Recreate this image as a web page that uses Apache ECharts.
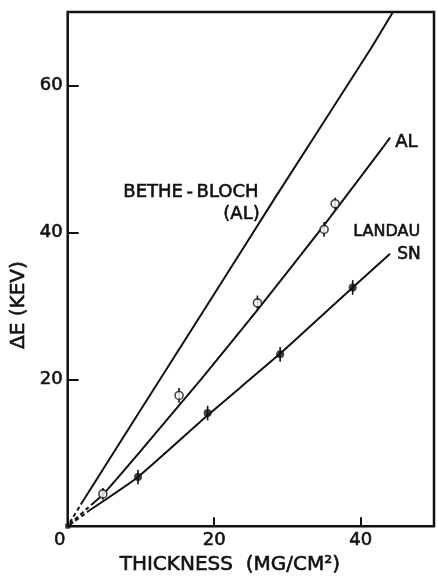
<!DOCTYPE html>
<html><head><meta charset="utf-8">
<script src="https://cdn.jsdelivr.net/npm/echarts@6/dist/echarts.min.js"></script>
<style>html,body{margin:0;padding:0;background:#fff}#c{width:437px;height:580px}</style>
</head><body><div id="c"></div>
<script>
// ---- data ----
const xTickLabels = ['0', '20', '40'];
const yTickLabels = ['20', '40', '60'];

// Bethe-Bloch (Al) curve
const betheDashed = [[0.3, 0.5], [2.0, 3.3]];
const betheSolid = [[2.0, 3.3], [11.2, 17.8], [20.0, 31.6], [28.3, 44.7], [41.3, 64.9], [44.4, 70.0]];
// Landau Al curve
const alDashed = [[0.3, 0.3], [3.2, 2.9]];
const alSolid = [[3.2, 2.9], [4.8, 4.3], [10.0, 10.3], [18.2, 20.0], [25.8, 29.3], [35.0, 41.0], [42.9, 51.4], [44.0, 52.9]];
// Landau Sn curve
const snDashed = [[0.3, 0.2], [2.9, 2.1]];
const snSolid = [[2.9, 2.1], [9.6, 6.7], [19.1, 15.1], [29.0, 23.5], [38.9, 32.5], [44.0, 37.1]];

// measured points
const alX = [4.8, 15.2, 25.9, 35.0, 36.5];
const alY = [4.4, 17.8, 30.4, 40.4, 43.9];
const alErr = [0.8, 1.0, 1.0, 1.0, 0.8];
const snX = [9.6, 19.1, 29.0, 38.9];
const snY = [6.7, 15.4, 23.4, 32.5];
const snErr = [1.0, 1.0, 1.0, 1.0];
const originPt = [[0, 0]];

// ---- chart ----
const FONT = 'DejaVu Sans';
const INK = '#111';
const alPts = alX.map((x, i) => [x, alY[i]]);
const snPts = snX.map((x, i) => [x, snY[i]]);
const alBars = alX.map((x, i) => [x, alY[i], alErr[i]]);
const snBars = snX.map((x, i) => [x, snY[i], snErr[i]]);
const bold = { textBorderColor: INK, textBorderWidth: 0.6 };

function lineSeries(data, dashed) {
  return {
    type: 'line', data, showSymbol: false, smooth: 0.15,
    lineStyle: { color: INK, width: 2, type: dashed ? [4, 3] : 'solid' },
    silent: true, z: 2
  };
}
function errSeries(data) {
  return {
    type: 'custom', data, z: 3, silent: true,
    renderItem: function (params, api) {
      const x = api.value(0), y = api.value(1), e = api.value(2);
      const p1 = api.coord([x, y - e]);
      const p2 = api.coord([x, y + e]);
      return { type: 'line', shape: { x1: p1[0], y1: p1[1], x2: p2[0], y2: p2[1] },
               style: { stroke: INK, lineWidth: 1.6 } };
    }
  };
}
function txt(text, left, top, size) {
  return { type: 'text', left, top, style: { text, font: size + 'px "DejaVu Sans"', fill: INK, stroke: INK, lineWidth: 0.6 } };
}

const chart = echarts.init(document.getElementById('c'), null, { renderer: 'canvas' });
chart.setOption({
  backgroundColor: '#fff',
  animation: false,
  grid: { left: 65, right: 2, top: 12, bottom: 48, show: true, borderColor: INK, borderWidth: 2.5, backgroundColor: 'transparent' },
  xAxis: {
    type: 'value', min: 0, max: 50, interval: 20,
    axisLine: { show: false }, splitLine: { show: false },
    axisTick: { inside: true, length: 9, lineStyle: { color: INK, width: 2 } },
    axisLabel: Object.assign({
      margin: 5, color: INK, fontFamily: FONT, fontSize: 18,
      formatter: function (v) {
        const s = String(v);
        if (s === '0') return '{z|0}';
        return xTickLabels.indexOf(s) >= 0 ? s : '';
      },
      rich: { z: Object.assign({ fontFamily: FONT, fontSize: 18, color: INK, padding: [0, 16, 8, 0] }, bold) }
    }, bold),
    name: 'THICKNESS  (MG/CM\u00B2)', nameLocation: 'middle', nameGap: 23,
    nameTextStyle: Object.assign({ fontFamily: FONT, fontSize: 20, color: INK, padding: [0, 42, 0, 0] }, bold)
  },
  yAxis: {
    type: 'value', min: 0, max: 70, interval: 20,
    axisLine: { show: false }, splitLine: { show: false },
    axisTick: { inside: true, length: 11, lineStyle: { color: INK, width: 2 } },
    axisLabel: Object.assign({
      margin: 5, color: INK, fontFamily: FONT, fontSize: 18,
      formatter: function (v) { const s = String(v); return yTickLabels.indexOf(s) >= 0 ? s : ''; }
    }, bold),
    name: '\u0394E (KEV)', nameLocation: 'middle', nameGap: 22,
    nameTextStyle: Object.assign({ fontFamily: FONT, fontSize: 20, color: INK, padding: [0, 72, 0, 0] }, bold)
  },
  graphic: [
    txt('BETHE\u2009-\u2009BLOCH', 123, 183, 18),
    txt('(AL)', 223, 205, 18),
    txt('AL', 395, 133, 18),
    txt('LANDAU', 353, 224, 16),
    txt('SN', 397, 246, 17)
  ],
  series: [
    lineSeries(betheDashed, true), lineSeries(betheSolid, false),
    lineSeries(alDashed, true), lineSeries(alSolid, false),
    lineSeries(snDashed, true), lineSeries(snSolid, false),
    errSeries(alBars), errSeries(snBars),
    { type: 'scatter', data: alPts, symbol: 'circle', symbolSize: 8, z: 4, silent: true,
      itemStyle: { color: '#fff', borderColor: INK, borderWidth: 1.6 } },
    { type: 'scatter', data: snPts, symbol: 'circle', symbolSize: 8, z: 4, silent: true,
      itemStyle: { color: INK } },
    { type: 'scatter', data: originPt, symbol: 'rect', symbolSize: 5, z: 4, silent: true,
      itemStyle: { color: INK } }
  ]
});
</script>
</body></html>
